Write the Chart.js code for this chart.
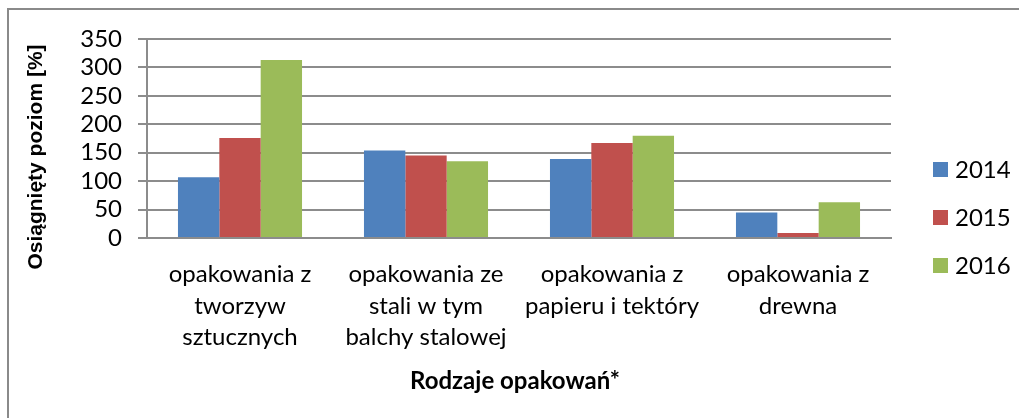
<!DOCTYPE html>
<html>
<head>
<meta charset="utf-8">
<script src="https://cdn.jsdelivr.net/npm/chart.js@4"></script>
<style>
  html, body { margin: 0; padding: 0; background: #fff; }
  #wrap { width: 1019px; height: 418px; }
</style>
</head>
<body>
<div id="wrap"><canvas id="myChart" width="1019" height="418"></canvas></div>
<script>
var categories = [
  ["opakowania z", "tworzyw", "sztucznych"],
  ["opakowania ze", "stali w tym", "balchy stalowej"],
  ["opakowania z", "papieru i tektóry"],
  ["opakowania z", "drewna"]
];
var years = ["2014", "2015", "2016"];
var v2014 = [107, 154, 139, 45];
var v2015 = [176, 145, 167, 9];
var v2016 = [313, 135, 180, 63];
var colors = ["#4F81BD", "#C0504D", "#9BBB59"];
var yTicks = [0, 50, 100, 150, 200, 250, 300, 350];

var gridColor = "#8c8c8c";
var font = "Lato";

// gray frame on the left and top edges, like the sheet object border
var framePlugin = {
  id: "frame",
  beforeDraw: function (chart) {
    var c = chart.ctx;
    c.save();
    c.strokeStyle = "#8a8a8a";
    c.lineWidth = 2;
    c.beginPath();
    c.moveTo(8, 418);
    c.lineTo(8, 9);
    c.lineTo(1019, 9);
    c.stroke();
    c.restore();
  }
};

// axis titles and the legend on the right
var labelsPlugin = {
  id: "labels",
  afterDraw: function (chart) {
    var c = chart.ctx;
    var area = chart.chartArea;
    c.save();
    c.fillStyle = "#000";

    c.font = "bold 21px 'Liberation Sans'";
    c.textAlign = "center";
    c.textBaseline = "middle";
    c.save();
    c.translate(36, 157);
    c.rotate(-Math.PI / 2);
    c.fillText("Osiągnięty poziom [%]", 0, 0);
    c.restore();

    c.font = "bold 24px " + font;
    c.fillText("Rodzaje opakowań*", (area.left + area.right) / 2 - 4, 381);

    c.font = "24px " + font;
    c.textAlign = "left";
    chart.data.datasets.forEach(function (ds, i) {
      var y = 170 + i * 48;
      c.fillStyle = ds.backgroundColor;
      c.fillRect(933, y - 8, 15, 15);
      c.fillStyle = "#000";
      c.fillText(ds.label, 955, y);
    });
    c.restore();
  }
};

var ctx = document.getElementById("myChart").getContext("2d");
var mixedChart = new Chart(ctx, {
  type: "bar",
  data: {
    labels: categories,
    datasets: [
      { label: years[0], data: v2014, backgroundColor: colors[0] },
      { label: years[1], data: v2015, backgroundColor: colors[1] },
      { label: years[2], data: v2016, backgroundColor: colors[2] }
    ]
  },
  options: {
    responsive: false,
    animation: false,
    devicePixelRatio: 1,
    layout: { padding: { top: 39, right: 128, bottom: 0, left: 0 } },
    datasets: {
      bar: { categoryPercentage: 0.667, barPercentage: 1.0, borderWidth: 0 }
    },
    plugins: {
      legend: { display: false },
      tooltip: { enabled: false }
    },
    scales: {
      x: {
        grid: { display: false, drawTicks: false },
        border: { display: true, color: gridColor, width: 2 },
        ticks: {
          color: "#000",
          padding: 21,
          maxRotation: 0,
          autoSkip: false,
          font: { family: font, size: 24, lineHeight: 1.31 }
        },
        afterFit: function (scale) { scale.height = 180; }
      },
      y: {
        min: 0,
        max: 350,
        afterBuildTicks: function (scale) {
          scale.ticks = yTicks.map(function (v) { return { value: v }; });
        },
        grid: { color: gridColor, lineWidth: 2, tickLength: 9, drawTicks: true },
        border: { display: true, color: gridColor, width: 2 },
        ticks: {
          color: "#000",
          padding: 16,
          autoSkip: false,
          font: { family: font, size: 24 }
        },
        afterFit: function (scale) { scale.width = 147; }
      }
    }
  },
  plugins: [framePlugin, labelsPlugin]
});
</script>
</body>
</html>
